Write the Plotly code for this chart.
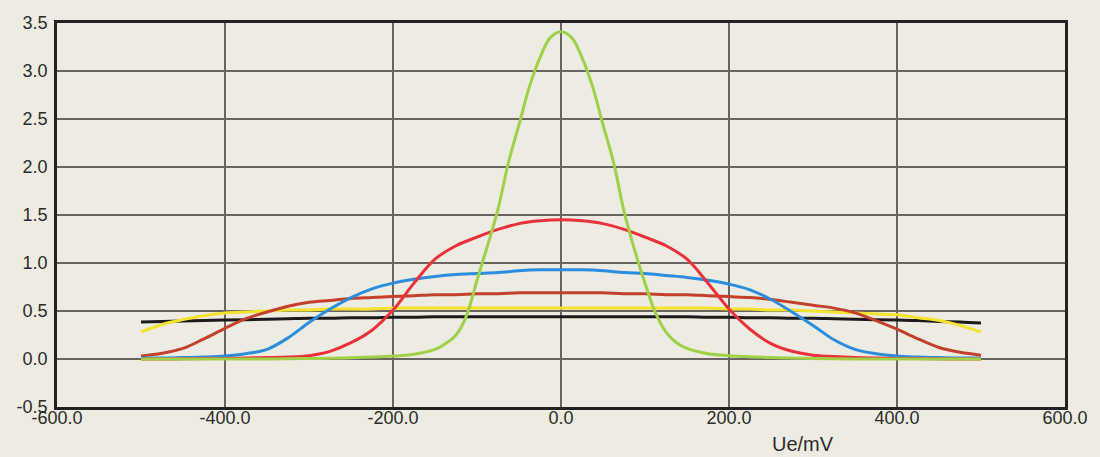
import plotly.graph_objects as go

x_mv = [-500, -475, -450, -425, -400, -375, -350, -325, -300, -275, -250, -225, -200, -175, -150, -125, -100, -75, -50, -25,
        0, 25, 50, 75, 100, 125, 150, 175, 200, 225, 250, 275, 300, 325, 350, 375, 400, 425, 450, 475, 500]

black = [0.385, 0.39, 0.395, 0.40, 0.405, 0.41, 0.415, 0.42, 0.425, 0.425, 0.43, 0.43, 0.435, 0.435, 0.44, 0.44, 0.44, 0.44, 0.44, 0.44,
         0.44, 0.44, 0.44, 0.44, 0.44, 0.44, 0.44, 0.435, 0.435, 0.43, 0.43, 0.425, 0.425, 0.42, 0.415, 0.41, 0.405, 0.40, 0.39, 0.385, 0.375]

yellow = [0.28, 0.36, 0.41, 0.45, 0.48, 0.49, 0.50, 0.51, 0.51, 0.52, 0.52, 0.52, 0.53, 0.53, 0.53, 0.53, 0.53, 0.53, 0.53, 0.53,
          0.53, 0.53, 0.53, 0.53, 0.53, 0.53, 0.53, 0.53, 0.52, 0.52, 0.51, 0.51, 0.50, 0.49, 0.48, 0.47, 0.46, 0.43, 0.40, 0.35, 0.28]

brown = [0.03, 0.06, 0.11, 0.21, 0.32, 0.42, 0.49, 0.55, 0.59, 0.61, 0.63, 0.64, 0.65, 0.66, 0.67, 0.67, 0.68, 0.68, 0.69, 0.69,
         0.69, 0.69, 0.69, 0.68, 0.68, 0.67, 0.67, 0.66, 0.65, 0.64, 0.62, 0.59, 0.56, 0.53, 0.48, 0.40, 0.31, 0.21, 0.12, 0.07, 0.04]

blue = [0.01, 0.01, 0.015, 0.02, 0.03, 0.055, 0.10, 0.22, 0.38, 0.52, 0.64, 0.73, 0.79, 0.83, 0.86, 0.88, 0.89, 0.90, 0.92, 0.93,
        0.93, 0.93, 0.92, 0.90, 0.89, 0.87, 0.85, 0.82, 0.78, 0.72, 0.62, 0.49, 0.35, 0.20, 0.10, 0.055, 0.03, 0.02, 0.015, 0.01, 0.01]

red = [0.0, 0.0, 0.002, 0.004, 0.006, 0.01, 0.015, 0.02, 0.035, 0.08, 0.17, 0.30, 0.51, 0.79, 1.04, 1.18, 1.27, 1.35, 1.41, 1.44,
       1.45, 1.44, 1.41, 1.35, 1.27, 1.18, 1.04, 0.79, 0.52, 0.31, 0.16, 0.08, 0.04, 0.025, 0.015, 0.01, 0.006, 0.004, 0.002, 0.0, 0.0]

green_x = [-500, -450, -400, -350, -300, -250, -200, -175, -150, -137.5, -125, -112.5, -100, -87.5, -75, -62.5, -50, -37.5, -25, -12.5,
           0, 12.5, 25, 37.5, 50, 62.5, 75, 87.5, 100, 112.5, 125, 137.5, 150, 175, 200, 250, 300, 350, 400, 450, 500]
green = [0.0, 0.0, 0.0, 0.0, 0.005, 0.012, 0.03, 0.05, 0.10, 0.16, 0.25, 0.45, 0.82, 1.18, 1.56, 2.05, 2.44, 2.84, 3.14, 3.35,
         3.41, 3.35, 3.14, 2.84, 2.44, 2.05, 1.54, 1.14, 0.79, 0.48, 0.28, 0.17, 0.11, 0.055, 0.035, 0.015, 0.005, 0.0, 0.0, 0.0, 0.0]

x_ticks = [-600, -400, -200, 0, 200, 400, 600]
y_ticks = [-0.5, 0.0, 0.5, 1.0, 1.5, 2.0, 2.5, 3.0, 3.5]

series = [
    ("black", x_mv, black, "#1c1a1a"),
    ("yellow", x_mv, yellow, "#f3e22e"),
    ("brown", x_mv, brown, "#c2402c"),
    ("blue", x_mv, blue, "#2a8ddd"),
    ("red", x_mv, red, "#ea3038"),
    ("green", green_x, green, "#9fd048"),
]

fig = go.Figure()
for name, xs, ys, col in series:
    fig.add_trace(go.Scatter(x=xs, y=ys, mode="lines", name=name,
                             line=dict(color=col, width=3, shape="spline", smoothing=1.0)))

bg = "#eeebe2"
font = dict(family="Liberation Sans, Arial, sans-serif", size=18, color="#2b2b2b")
fig.update_layout(
    width=1100, height=457,
    margin=dict(l=57, r=35, t=23, b=50),
    paper_bgcolor=bg, plot_bgcolor=bg,
    showlegend=False,
    font=font,
    xaxis=dict(range=[-600, 600], tickvals=x_ticks, ticktext=[f"{v:.1f}" for v in x_ticks],
               showgrid=True, gridcolor="#6b6262", gridwidth=1.5, zeroline=False,
               showline=True, linecolor="#222", linewidth=2.5, mirror=True,
               ticks="", ticklabelstandoff=-7, tickfont=font),
    yaxis=dict(range=[-0.5, 3.5], tickvals=y_ticks, ticktext=[f"{v:.1f}" for v in y_ticks],
               showgrid=True, gridcolor="#6b6262", gridwidth=1.5, zeroline=False,
               showline=True, linecolor="#222", linewidth=2.5, mirror=True,
               ticks="", ticklabelstandoff=3, tickfont=font),
    annotations=[dict(text="Ue/mV", xref="paper", yref="paper", x=0.740, y=-0.096,
                      xanchor="center", yanchor="middle", showarrow=False,
                      font=dict(family="Liberation Sans, Arial, sans-serif", size=20, color="#2b2b2b"))],
)

fig.write_html("out.html", config={"displayModeBar": False},
               post_script="document.documentElement.style.background='#eeebe2';"
                           "document.body.style.margin='0';document.body.style.background='#eeebe2';")
